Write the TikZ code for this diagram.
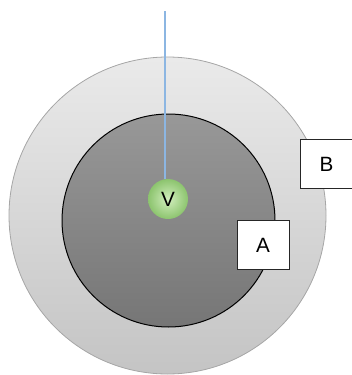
\documentclass[tikz,border=0pt]{standalone}
\usepackage{fontspec}
\setmainfont{Liberation Sans}
\definecolor{ringtop}{RGB}{234,234,234}
\definecolor{ringbot}{RGB}{196,196,196}
\definecolor{coretop}{RGB}{152,152,152}
\definecolor{corebot}{RGB}{118,118,118}
\definecolor{stem}{RGB}{140,182,226}
\definecolor{vinner}{RGB}{210,238,190}
\definecolor{vouter}{RGB}{140,196,110}
\tikzset{
  labelbox/.style={draw=black!85,line width=0.7pt,fill=white,inner sep=0pt,
    minimum width=52*0.75pt,minimum height=49*0.75pt,
    font=\fontsize{15.5}{18}\selectfont},
}
\begin{document}
\begin{tikzpicture}[x=0.75pt,y=-0.75pt]
  \useasboundingbox (0,0) rectangle (352,375);
  % rings
  \shade[top color=ringtop,bottom color=ringbot,draw=black!35,line width=0.6pt]
    (167.5,215.5) circle (158.5);
  \shade[top color=coretop,bottom color=corebot,draw=black,line width=0.75pt]
    (168.5,220.5) circle (106.5);
  % centre
  \coordinate (top) at (165,11);
  \node[circle,inner color=vinner,outer color=vouter,minimum size=40*0.75pt,inner sep=0pt,
    font=\fontsize{15.5}{18}\selectfont] (V) at (168,199) {V};
  \draw[stem,line width=1.3pt] (top) -- (V.north -| top);
  % labels
  \node[labelbox] (A) at (263,245) {A};
  \node[labelbox] (B) at (326.5,164) {B};
\end{tikzpicture}
\end{document}
